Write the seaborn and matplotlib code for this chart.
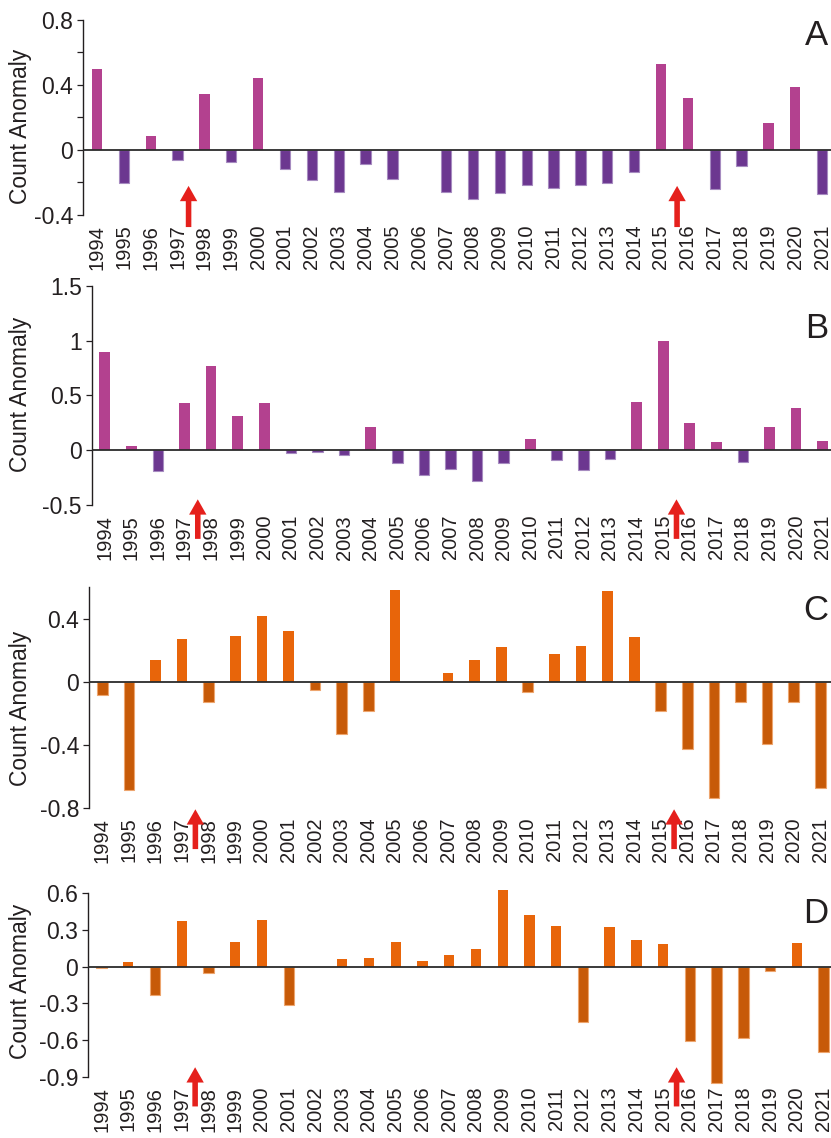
import numpy as np
import pandas as pd
import matplotlib
matplotlib.use("Agg")
import matplotlib.pyplot as plt
import seaborn as sns

years = [str(y) for y in range(1994, 2022)]

anom_a = [0.50, -0.205, 0.086, -0.06, 0.345, -0.076, 0.443, -0.119, -0.185, -0.258,
          -0.088, -0.176, 0.0, -0.256, -0.303, -0.263, -0.215, -0.232, -0.217, -0.201,
          -0.133, 0.531, 0.32, -0.24, -0.096, 0.166, 0.388, -0.271]
anom_b = [0.894, 0.039, -0.188, 0.43, 0.767, 0.312, 0.43, -0.024, -0.015, -0.042,
          0.212, -0.118, -0.224, -0.173, -0.282, -0.112, 0.103, -0.088, -0.179, -0.079,
          0.439, 0.994, 0.248, 0.076, -0.103, 0.212, 0.385, 0.085]
anom_c = [-0.082, -0.688, 0.137, 0.269, -0.128, 0.288, 0.415, 0.32, -0.055, -0.331,
          -0.183, 0.579, 0.0, 0.055, 0.137, 0.219, -0.067, 0.175, 0.225, 0.573,
          0.282, -0.187, -0.427, -0.737, -0.126, -0.394, -0.131, -0.674]
anom_d = [-0.014, 0.038, -0.232, 0.373, -0.049, 0.202, 0.381, -0.311, 0.0, 0.063,
          0.071, 0.202, 0.046, 0.095, 0.144, 0.627, 0.422, 0.332, -0.455, 0.324,
          0.218, 0.185, -0.61, -0.948, -0.578, -0.038, 0.193, -0.695]

panel_letters = ["A", "B", "C", "D"]
arrow_years = [3.5, 21.5]  # between 1997/1998 and 2015/2016

purple_pal = {"pos": "#B3418F", "neg": "#6C3790"}
orange_pal = {"pos": "#E8650A", "neg": "#C75A08"}
neg_edge = {"purple": "#A68BC0", "orange": "#EDA56E"}

sns.set_style("ticks")
plt.rcParams["font.family"] = ["Liberation Sans", "DejaVu Sans"]
plt.rcParams["text.color"] = "#231F20"

fig = plt.figure(figsize=(8.31, 11.38), dpi=100)

# (left, bottom, width, height) in figure fraction
panels = [
    dict(vals=anom_a, pos=[0.0999, 0.8111, 0.9001, 0.1714], xlim=(-0.52, 27.33),
         ylim=(-0.4, 0.8), major=[-0.4, 0, 0.4, 0.8], minor=[-0.2, 0.2, 0.6],
         pal=purple_pal, edge="purple", width=0.38, lab=(-0.068, 0.454),
         letter_y=0.9605, arrow=(0.149, -0.062), ax_x=[3.41, 21.6]),
    dict(vals=anom_b, pos=[0.1103, 0.556, 0.8897, 0.193], xlim=(-0.49, 27.31),
         ylim=(-0.5, 1.5), major=[-0.5, 0, 0.5, 1, 1.5], minor=[],
         pal=purple_pal, edge="purple", width=0.4, lab=(-0.081, 0.507),
         letter_y=0.7027, arrow=(0.027, -0.153), ax_x=arrow_years),
    dict(vals=anom_c, pos=[0.1071, 0.290, 0.8929, 0.1942], xlim=(-0.5, 27.4),
         ylim=(-0.8, 0.6), major=[-0.8, -0.4, 0, 0.4], minor=[],
         pal=orange_pal, edge="orange", width=0.4, lab=(-0.077, 0.45),
         letter_y=0.4552, arrow=(-0.006, -0.186), ax_x=arrow_years),
    dict(vals=anom_d, pos=[0.1059, 0.0536, 0.894, 0.1617], xlim=(-0.505, 27.27),
         ylim=(-0.9, 0.6), major=[-0.9, -0.6, -0.3, 0, 0.3, 0.6], minor=[],
         pal=orange_pal, edge="orange", width=0.39, lab=(-0.075, 0.52),
         letter_y=0.1887, arrow=(0.053, -0.16), ax_x=arrow_years),
]

for letter, p in zip(panel_letters, panels):
    ax = fig.add_axes(p["pos"])
    df = pd.DataFrame({"year": years, "anomaly": p["vals"]})
    df["sign"] = np.where(df["anomaly"] < 0, "neg", "pos")
    sns.barplot(data=df, x="year", y="anomaly", hue="sign", order=years,
                hue_order=["pos", "neg"], palette=p["pal"], dodge=False,
                width=p["width"], saturation=1, legend=False, ax=ax)
    for bar in ax.patches:
        bar.set_clip_on(False)
        if bar.get_height() < 0:
            bar.set_edgecolor(neg_edge[p["edge"]])
            bar.set_linewidth(0.8)
        else:
            bar.set_linewidth(0)

    ax.axhline(0, color="#2B2B2B", lw=1.3, zorder=5)
    ax.set_xlim(*p["xlim"])
    ax.set_ylim(*p["ylim"])
    ax.set_yticks(p["major"])
    ax.set_yticklabels([f"{v:g}" for v in p["major"]])
    ax.set_yticks(p["minor"], minor=True)
    for side in ["top", "right", "bottom"]:
        ax.spines[side].set_visible(False)
    ax.spines["left"].set_color("#231F20")
    ax.spines["left"].set_linewidth(1.0)
    ax.tick_params(axis="y", which="both", length=4, width=0.9, color="#231F20",
                   labelsize=16.5, labelcolor="#231F20", pad=3)
    ax.tick_params(axis="x", length=0, labelsize=14.5, rotation=90, pad=7,
                   labelcolor="#231F20")
    ax.set_xlabel("")
    ax.set_ylabel("Count Anomaly", fontsize=16.5, color="#231F20")
    ax.yaxis.set_label_coords(*p["lab"])

    tip, tail = p["arrow"]
    for xa in p["ax_x"]:
        ax.annotate("", xy=(xa, tip), xytext=(xa, tail),
                    xycoords=("data", "axes fraction"),
                    textcoords=("data", "axes fraction"),
                    arrowprops=dict(facecolor="#E5201C", edgecolor="none",
                                    width=4.0, headwidth=12.5, headlength=11, shrink=0),
                    annotation_clip=False)

    fig.text(0.997, p["letter_y"], letter, ha="right", va="baseline", fontsize=25,
             color="#231F20")

fig.savefig("out.png", dpi=100)
